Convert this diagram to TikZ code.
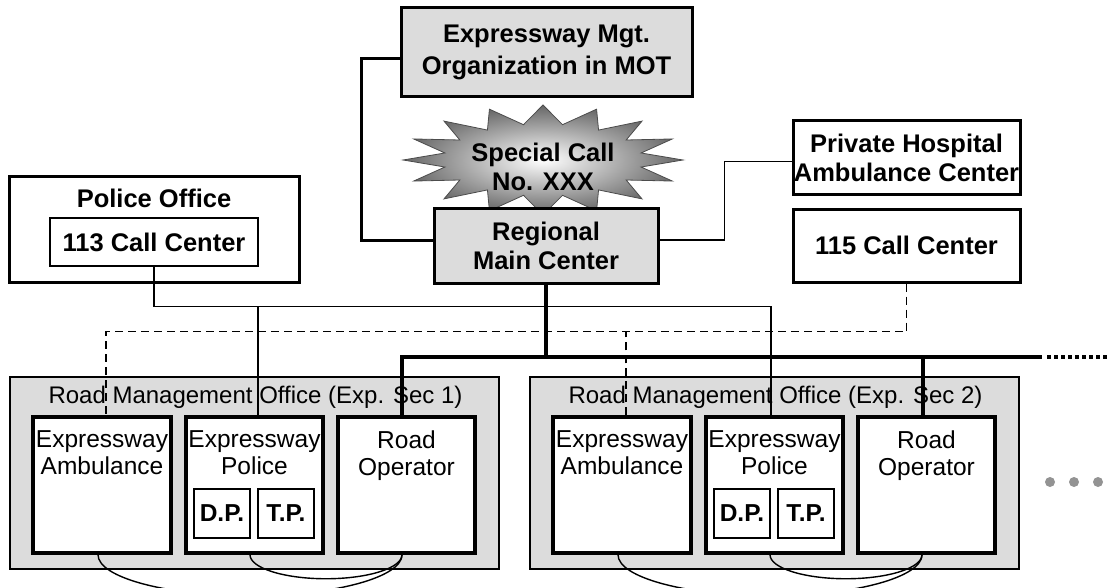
\documentclass[tikz,border=0pt]{standalone}
\usepackage{fontspec}
\setmainfont{Liberation Sans}
\usepackage{tikz}
\usetikzlibrary{positioning, calc}
\definecolor{boxgray}{RGB}{220,220,220}

\begin{document}
\begin{tikzpicture}[x=1pt, y=-1pt,
    bigtxt/.style={font=\fontsize{25.5}{29}\selectfont\bfseries, align=center},
    topbox/.style={draw, line width=3pt, bigtxt, inner sep=0pt},
    thinline/.style={line width=1.4pt},
    dashline/.style={line width=1.4pt, dash pattern=on 8pt off 5pt},
    bus/.style={line width=4pt},
    secbox/.style={draw, line width=1.2pt, fill=boxgray, minimum width=489pt, minimum height=192pt},
    unitbox/.style={draw, line width=3.5pt, fill=white, minimum width=137pt, minimum height=136pt},
    subbox/.style={draw, line width=1.2pt, fill=white, minimum width=56pt, minimum height=49pt,
        font=\fontsize{24.5}{28}\selectfont\bfseries, inner sep=0pt},
    unittxt/.style={font=\fontsize{24.5}{27}\selectfont, align=center, inner sep=0pt, anchor=north}]
    \useasboundingbox (0,0) rectangle (1107,588);

    % Special call burst
    \begin{scope}[shift={(543,160)}]
    \draw[line width=0.8pt, draw=black!70, inner color=white, outer color=black!60]
        (0:140 and 55)
        \foreach \k [evaluate=\k as \rx using {isodd(\k) ? 100 : 140},
                     evaluate=\k as \ry using {isodd(\k) ? 36 : 55}] in {1,...,31}
            { -- ({\k*11.25}:{\rx} and {\ry}) } -- cycle;
    \end{scope}
    \node[bigtxt, inner sep=0pt] (spc) at (543,167) {Special Call\\No. XXX};

    % Centers
    \node[topbox, fill=boxgray, minimum width=291pt, minimum height=89pt] (mot) at (546.5,52.5)
        {Expressway Mgt.\\[3pt]Organization in MOT};
    \node[topbox, fill=boxgray, minimum width=224pt, minimum height=75pt] (rmc) at (546,245.5)
        {Regional\\Main Center};
    \node[topbox, fill=white, minimum width=227pt, minimum height=73pt] (pha) at (906.5,157.5)
        {Private Hospital\\Ambulance Center};
    \node[topbox, fill=white, minimum width=227pt, minimum height=73pt] (cc115) at (906.5,245.5)
        {115 Call Center};

    % Police office
    \node[draw, line width=3pt, minimum width=290pt, minimum height=105pt] (po) at (154,229.5) {};
    \node[bigtxt, inner sep=0pt] (potitle) at ([yshift=-23pt]po.north) {Police Office};
    \node[draw, line width=1.2pt, bigtxt, minimum width=208pt, minimum height=48pt, inner sep=0pt]
        (cc113) at (154,242) {113 Call Center};

    % Road management offices
    \foreach \s/\dx in {1/0, 2/520} {
        \node[secbox] (sec\s) at (254.5+\dx,473) {};
        \node[font=\fontsize{24}{28}\selectfont, inner sep=0pt] (sectitle\s) at (255.5+\dx,397)
            {Road Management Office (Exp. Sec \s)};
        \node[unitbox, minimum width=138pt] (amb\s) at (102+\dx,485) {};
        \node[unitbox] (pol\s) at (254.5+\dx,485) {};
        \node[unitbox] (rop\s) at (406.5+\dx,485) {};
        \node[unittxt] at ([yshift=-15pt]amb\s.north) {Expressway\\Ambulance};
        \node[unittxt] at ([yshift=-15pt]pol\s.north) {Expressway\\Police};
        \node[unittxt] at ([yshift=-15pt]rop\s.north) {Road\\Operator};
        \node[subbox] (dp\s) at (222+\dx,513.5) {D.P.};
        \node[subbox] (tp\s) at (286+\dx,513.5) {T.P.};
        % links inside the office
        \draw[thinline] ([xshift=-4pt]amb\s.south) arc[start angle=180, end angle=0, x radius=152, y radius=41];
        \draw[thinline] ([xshift=-4.5pt]pol\s.south) arc[start angle=180, end angle=0, x radius=76, y radius=24];
    }

    % Links between centers
    \draw[line width=3pt] ([yshift=-6.5pt]mot.west) -- ++(-38,0) |- ([yshift=5.5pt]rmc.west);
    \draw[thinline] ([yshift=5.5pt]rmc.east) -- ++(65,0) |- ([yshift=-4pt]pha.west);

    % Police line
    \draw[thinline] (cc113.south) -- ++(0,40) coordinate (pline) -| ([xshift=-3.5pt]pol2.north);
    \draw[thinline] ([xshift=3.5pt]pol1.north) -- ([xshift=3.5pt]pol1.north |- pline);

    % Ambulance line
    \draw[dashline] (cc115.south) -- ++(0,48) coordinate (dline) -| ([xshift=4pt]amb1.north);
    \draw[dashline] ([xshift=4pt]amb2.north) -- ([xshift=4pt]amb2.north |- dline);

    % Main bus
    \coordinate (busend) at (1042,357);
    \draw[bus] (rmc.south) -- (rmc.south |- busend);
    \draw[bus] ([xshift=-5pt]rop1.north) |- (busend);
    \draw[bus] ([xshift=-4pt]rop2.north) -- ([xshift=-4pt]rop2.north |- busend);
    \draw[bus, dash pattern=on 3.5pt off 3.5pt] ([xshift=5pt]busend) -- ++(62,0);

    % More offices
    \foreach \x in {1050,1074,1098}
        \fill[gray!85] (\x,482) circle[radius=5];
\end{tikzpicture}
\end{document}
